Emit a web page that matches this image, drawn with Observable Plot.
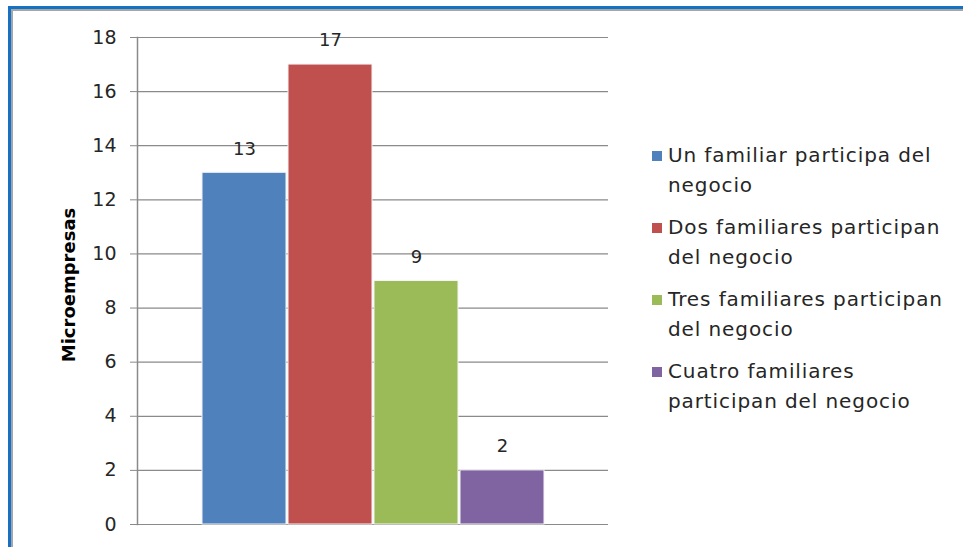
<!DOCTYPE html>
<html>
<head>
<meta charset="utf-8">
<script src="https://cdn.jsdelivr.net/npm/d3@7"></script>
<script src="https://cdn.jsdelivr.net/npm/@observablehq/plot@0.6"></script>
<style>
  html, body { margin: 0; padding: 0; background: #fff; }
  body { width: 963px; height: 547px; position: relative; overflow: hidden; font-family: "DejaVu Sans", sans-serif; }
  #frame { position: absolute; left: 8px; top: 6px; width: 1000px; height: 600px;
           border-top: 3px solid #1670c4; border-left: 3px solid #1670c4; }
  #frame2 { position: absolute; left: 11px; top: 9px; width: 1000px; height: 600px;
            border-top: 2px solid #a6a6a6; border-left: 2px solid #a6a6a6; }
  #chart { position: absolute; left: 0; top: 0; }
  #legend { position: absolute; left: 652px; top: 141px; color: #262626; font-size: 20px; letter-spacing: 0.9px; }
  .item { position: absolute; left: 0; white-space: nowrap; line-height: 29.5px; }
  .sw { position: absolute; left: 0; top: 10px; width: 10px; height: 10px; }
  .txt { position: absolute; left: 16px; top: 0; }
</style>
</head>
<body>
<div id="frame"></div>
<div id="frame2"></div>
<div id="chart"></div>
<div id="legend"></div>
<script>
const categories = [
  "Un familiar participa del negocio",
  "Dos familiares participan del negocio",
  "Tres familiares participan del negocio",
  "Cuatro familiares participan del negocio"
];
const legendLines = [
  ["Un familiar participa del", "negocio"],
  ["Dos familiares participan", "del negocio"],
  ["Tres familiares participan", "del negocio"],
  ["Cuatro familiares", "participan del negocio"]
];
const values = [13, 17, 9, 2];
const colors = ["#4f81bd", "#c0504d", "#9bbb59", "#8064a2"];
const yTicks = [0, 2, 4, 6, 8, 10, 12, 14, 16, 18];
const yLabel = "Microempresas";

const data = categories.map((c, i) => ({category: c, value: values[i], color: colors[i]}));

const chart = Plot.plot({
  width: 963,
  height: 547,
  marginLeft: 137,
  marginRight: 355,
  marginTop: 37,
  marginBottom: 23,
  style: {fontFamily: "DejaVu Sans, sans-serif", background: "transparent", color: "#262626"},
  x: {domain: categories, type: "band", paddingInner: 0.024, paddingOuter: 0, insetLeft: 65, insetRight: 64, axis: null},
  y: {domain: [0, 18], ticks: yTicks},
  marks: [
    Plot.gridY(yTicks, {stroke: "#8a8a8a", strokeOpacity: 1, strokeWidth: 1.2}),
    Plot.axisY(yTicks, {tickSize: 7, tickPadding: 14, stroke: "#8a8a8a", fontSize: 19, fill: "#262626", label: null}),
    Plot.frame({anchor: "left", stroke: "#8a8a8a", strokeWidth: 1.5}),
    Plot.barY(data, {x: "category", y: "value", fill: "color", stroke: "#f4f4f4", strokeWidth: 1}),
    Plot.text(data, {x: "category", y: "value", text: d => String(d.value), dy: -24, fontSize: 18, fill: "#262626"})
  ]
});
document.getElementById("chart").appendChild(chart);

// y-axis title
const svg = d3.select(chart);
svg.append("text")
  .attr("transform", "translate(68,285) rotate(-90)")
  .attr("text-anchor", "middle")
  .attr("dominant-baseline", "central")
  .attr("font-family", "DejaVu Sans, sans-serif")
  .attr("font-weight", "bold")
  .attr("font-size", 18)
  .attr("fill", "#000")
  .text(yLabel);

const legend = d3.select("#legend");
legendLines.forEach((lines, i) => {
  const item = legend.append("div").attr("class", "item").style("top", (i * 72) + "px");
  item.append("div").attr("class", "sw").style("background", colors[i]);
  const t = item.append("div").attr("class", "txt");
  lines.forEach(l => t.append("div").text(l));
});
</script>
</body>
</html>
